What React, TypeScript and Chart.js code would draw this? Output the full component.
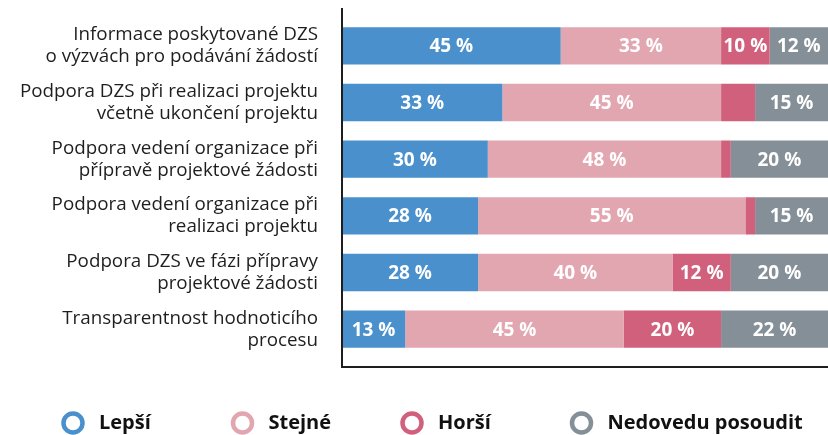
import React, { useEffect, useRef } from "react";
import { Chart, registerables } from "chart.js";

Chart.register(...registerables);

const categories: string[][] = [
  ["Informace poskytované DZS", "o výzvách pro podávání žádostí"],
  ["Podpora DZS při realizaci projektu", "včetně ukončení projektu"],
  ["Podpora vedení organizace při", "přípravě projektové žádosti"],
  ["Podpora vedení organizace při", "realizaci projektu"],
  ["Podpora DZS ve fázi přípravy", "projektové žádosti"],
  ["Transparentnost hodnoticího", "procesu"],
];

const seriesNames = ["Lepší", "Stejné", "Horší", "Nedovedu posoudit"];
const lepsi = [45, 33, 30, 28, 28, 13];
const stejne = [33, 45, 48, 55, 40, 45];
const horsi = [10, 7, 2, 2, 12, 20];
const nedovedu = [12, 15, 20, 15, 20, 22];
const seriesColors = ["#4A90CD", "#E2A6B1", "#D0607C", "#848F97"];

const TICK_FONT = "Open Sans";
const BOLD_FONT = "Open Sans";

const dataLabelsPlugin = {
  id: "dataLabelsPlugin",
  afterDatasetsDraw(chart: any) {
    const ctx = chart.ctx;
    ctx.save();
    ctx.font = `bold 19px "${BOLD_FONT}"`;
    ctx.fillStyle = "#ffffff";
    ctx.textAlign = "center";
    ctx.textBaseline = "middle";
    chart.data.datasets.forEach((ds: any, di: number) => {
      const meta = chart.getDatasetMeta(di);
      meta.data.forEach((el: any, i: number) => {
        const v = ds.data[i];
        if (v < 8) return;
        const p = el.getCenterPoint();
        ctx.fillText(`${v} %`, p.x, p.y + 1);
      });
    });
    ctx.restore();
  },
};

const axisLinesPlugin = {
  id: "axisLinesPlugin",
  afterDraw(chart: any) {
    const { ctx, chartArea } = chart;
    const ext = 9.5;
    ctx.save();
    ctx.strokeStyle = "#1e1e1e";
    ctx.lineWidth = 2;
    ctx.beginPath();
    ctx.moveTo(chartArea.left, chartArea.top - ext);
    ctx.lineTo(chartArea.left, chartArea.bottom + ext);
    ctx.lineTo(chartArea.right, chartArea.bottom + ext);
    ctx.stroke();
    ctx.restore();
  },
};

const legendPlugin = {
  id: "customLegend",
  afterDraw(chart: any) {
    const ctx = chart.ctx;
    const startX = 73;
    const step = 169.5;
    const y = 423;
    ctx.save();
    chart.data.datasets.forEach((ds: any, i: number) => {
      const cx = startX + i * step;
      ctx.beginPath();
      ctx.arc(cx, y, 9.5, 0, Math.PI * 2);
      ctx.strokeStyle = ds.backgroundColor;
      ctx.lineWidth = 4.5;
      ctx.stroke();
      ctx.font = `bold 20px "${BOLD_FONT}"`;
      ctx.fillStyle = "#111111";
      ctx.textAlign = "left";
      ctx.textBaseline = "middle";
      ctx.fillText(ds.label, cx + 26, y);
    });
    ctx.restore();
  },
};

export default function App() {
  const canvasRef = useRef<HTMLCanvasElement | null>(null);

  useEffect(() => {
    if (!canvasRef.current) return;
    const seriesData = [lepsi, stejne, horsi, nedovedu];
    const chart = new Chart(canvasRef.current, {
      type: "bar",
      data: {
        labels: categories,
        datasets: seriesNames.map((name, i) => ({
          label: name,
          data: seriesData[i],
          backgroundColor: seriesColors[i],
          borderWidth: 0,
          barPercentage: 1,
          categoryPercentage: 0.66,
        })),
      },
      options: {
        indexAxis: "y",
        animation: false,
        responsive: true,
        maintainAspectRatio: false,
        layout: { padding: { top: 17.5, bottom: 77.5, left: 0, right: 0 } },
        plugins: {
          legend: { display: false },
          tooltip: { enabled: false },
        },
        scales: {
          x: {
            stacked: true,
            min: 0,
            max: 100,
            display: false,
          },
          y: {
            stacked: true,
            grid: { display: false, drawTicks: false },
            border: { display: false },
            ticks: {
              padding: 24,
              color: "#1e1e1e",
              font: { family: TICK_FONT, size: 18.8, lineHeight: 1.17 },
            },
            afterFit(scale: any) {
              scale.width = 342;
              scale.paddingTop = 0;
              scale.paddingBottom = 0;
            },
          },
        },
      },
      plugins: [dataLabelsPlugin, axisLinesPlugin, legendPlugin],
    });
    return () => chart.destroy();
  }, []);

  return (
    <div style={{ position: "fixed", left: 0, top: 0, width: 828, height: 435, background: "#fff" }}>
      <canvas ref={canvasRef} />
    </div>
  );
}
